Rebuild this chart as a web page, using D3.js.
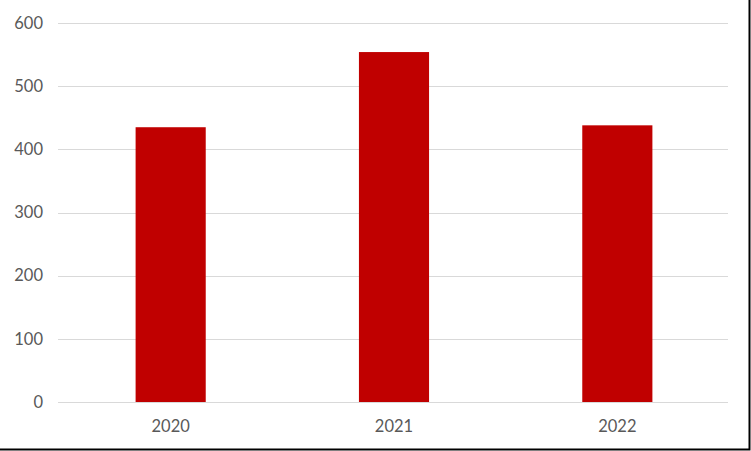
<!DOCTYPE html>
<html>
<head>
<meta charset="utf-8">
<script src="https://cdn.jsdelivr.net/npm/d3@7"></script>
<style>
    body { margin: 0; background: #fff; }
    svg { display: block; font-family: Lato, "Open Sans", sans-serif; }
</style>
</head>
<body>
<div id="chart"></div>
<script>
const years = ["2020", "2021", "2022"];
const values = [435, 554, 438];
const yTicks = [0, 100, 200, 300, 400, 500, 600];

const width = 751;
const height = 451;
const margin = {top: 23, right: 23, bottom: 49, left: 58};

const svg = d3.select("#chart")
    .append("svg")
    .attr("width", width)
    .attr("height", height);

// frame: only right and bottom edges show in the picture
svg.append("path")
    .attr("d", `M${width - 1.5},0V${height - 1.5}H0`)
    .attr("fill", "none")
    .attr("stroke", "#000")
    .attr("stroke-width", 2);

const xScale = d3.scaleBand()
    .domain(years)
    .range([margin.left + 1, width - margin.right + 1])
    .paddingInner(0.686)
    .paddingOuter(0.343);
const yScale = d3.scaleLinear()
    .domain([0, 600])
    .range([height - margin.bottom, margin.top]);

// gridlines
svg.append("g")
    .selectAll("line")
    .data(yTicks)
    .join("line")
    .attr("x1", margin.left)
    .attr("x2", width - margin.right)
    .attr("y1", (d) => Math.round(yScale(d)) + 0.5)
    .attr("y2", (d) => Math.round(yScale(d)) + 0.5)
    .attr("stroke", "#d9d9d9")
    .attr("stroke-width", 1);

// y tick labels
svg.append("g")
    .selectAll("text")
    .data(yTicks)
    .join("text")
    .attr("x", 43)
    .attr("y", (d) => yScale(d))
    .attr("dy", "0.35em")
    .attr("text-anchor", "end")
    .attr("fill", "#595959")
    .attr("font-size", 16.5)
    .text((d) => d);

// bars
svg.append("g")
    .selectAll("rect")
    .data(years.map((y, i) => ({year: y, value: values[i]})))
    .join("rect")
    .attr("x", (d) => xScale(d.year))
    .attr("width", xScale.bandwidth())
    .attr("y", (d) => yScale(d.value))
    .attr("height", (d) => yScale(0) - yScale(d.value))
    .attr("fill", "#c00000");

// x labels
svg.append("g")
    .selectAll("text")
    .data(years)
    .join("text")
    .attr("x", (d) => xScale(d) + xScale.bandwidth() / 2)
    .attr("y", 426)
    .attr("dy", "0.35em")
    .attr("text-anchor", "middle")
    .attr("fill", "#595959")
    .attr("font-size", 16.5)
    .text((d) => d);
</script>
</body>
</html>
